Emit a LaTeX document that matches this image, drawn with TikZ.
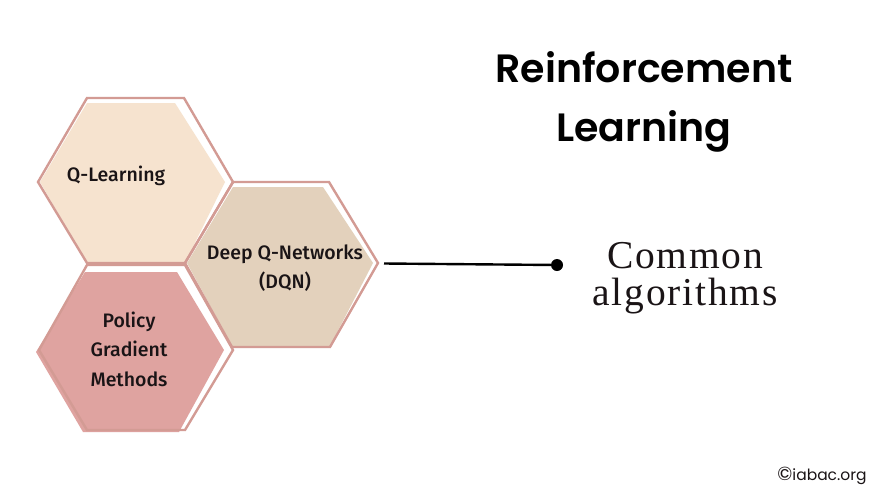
\documentclass[tikz,border=0pt]{standalone}
\usepackage{fontspec}
\setmainfont{Liberation Serif}[LetterSpace=4.5]
\newfontfamily\titlefont{Poppins SemiBold}
\newfontfamily\hexfont{Fira Sans Medium}
\newfontfamily\markfont{Poppins}
\definecolor{edgepink}{HTML}{D39B94}
\definecolor{fillcream}{HTML}{F6E3CF}
\definecolor{filltan}{HTML}{E3D1BC}
\definecolor{fillrose}{HTML}{DFA3A0}
\definecolor{inkdark}{HTML}{1A1416}
\tikzset{
  hexline/.style={draw=edgepink,line width=2.4pt,line join=miter},
  hexlabel/.style={font=\hexfont\fontsize{19.5}{29.5}\selectfont,text=inkdark,align=center,inner sep=0pt},
  titlelabel/.style={font=\titlefont\fontsize{39.5}{59}\selectfont,text=black,align=center,inner sep=0pt},
  subtitle/.style={font=\fontsize{39.5}{37}\selectfont,text=inkdark,align=center,inner sep=0pt},
}
\begin{document}
\begin{tikzpicture}[x=1pt,y=-1pt]
\useasboundingbox (0,0) rectangle (870,488);
\fill[white] (0,0) rectangle (870,488);
% Q-Learning
\fill[fillcream] (87,103) -- (175,103) -- (225,182) -- (185,263) -- (87,263) -- (40,182) -- cycle;
\draw[hexline] (87,98) -- (184,98) -- (233,182) -- (185,263) -- (87,263) -- (38,182) -- cycle;
% Policy Gradient Methods
\fill[fillrose] (85,272) -- (177,272) -- (224,350) -- (179,432) -- (83,432) -- (36,352) -- cycle;
\draw[hexline] (87,265) -- (185,265) -- (233,350) -- (185,430) -- (87,430) -- (39,350) -- cycle;
% DQN
\fill[filltan] (233,187) -- (323,187) -- (373,263) -- (330,346) -- (232,346) -- (187,263) -- cycle;
\draw[hexline] (233,182) -- (329,182) -- (378,263) -- (330,347) -- (232,347) -- (185,263) -- cycle;
\node[hexlabel] (qlearn) at (116,176) {Q-Learning};
\node[hexlabel] (dqn) at (285,268) {Deep Q-Networks\\(DQN)};
\node[hexlabel] (policy) at (129,349) {Policy\\Gradient\\Methods};
\node[titlelabel] (title) at (644,101.5) {Reinforcement\\Learning};
\node[subtitle] (algo) at (685,278) {Common\\algorithms};
\coordinate (linestart) at (384,263.5);
\node[circle,fill=black,inner sep=0pt,minimum size=12pt] (dot) at (557,265) {};
\draw[black,line width=2.4pt] (linestart) -- (dot);
\node[inner sep=0pt,text=inkdark,font=\markfont\fontsize{15.5}{15.5}\selectfont] (mark) at (822,476) {{\fontsize{19}{19}\selectfont\textcopyright}iabac.org};
\end{tikzpicture}
\end{document}
